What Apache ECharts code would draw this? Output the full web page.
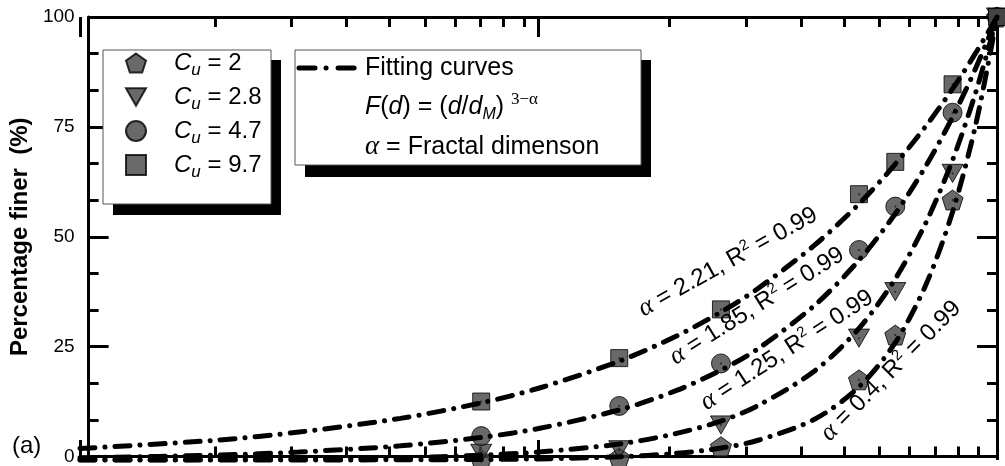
<!DOCTYPE html>
<html><head><meta charset="utf-8">
<script src="https://cdn.jsdelivr.net/npm/echarts@6/dist/echarts.min.js"></script>
<style>html,body{margin:0;padding:0;background:#fff}#c{width:1005px;height:466px}</style>
</head><body><div id="c"></div>
<script>
// ---- data (x = d/dM, y = percentage finer) ----
const sizes = [0.075, 0.15, 0.25, 0.5, 0.6, 0.8, 1];
const cu2   = [0.1, 0.5, 3.0, 18.1, 28.2, 58.7, 100];
const cu28  = [1.5, 2.3, 7.9, 27.5, 38.0, 64.7, 100];
const cu47  = [5.4, 12.2, 21.8, 47.4, 57.2, 78.4, 100];
const cu97  = [13.2, 23.0, 34.0, 60.0, 67.3, 84.8, 100];
const cuLabels = ['2', '2.8', '4.7', '9.7'];

const fitX   = [0.01, 0.02, 0.03, 0.05, 0.075, 0.1, 0.15, 0.2, 0.25, 0.3, 0.4, 0.5, 0.6, 0.7, 0.8, 0.9, 1];
const fit221 = [2.6, 4.5, 6.3, 9.4, 12.9, 16.2, 22.3, 28.0, 33.4, 38.6, 48.5, 57.8, 66.8, 75.4, 83.8, 92.0, 100];
const fit185 = [0.5, 1.1, 1.8, 3.2, 5.1, 7.1, 11.3, 15.7, 20.3, 25.0, 34.9, 45.1, 55.6, 66.4, 77.4, 88.6, 100];
const fit125 = [0.03, 0.1, 0.2, 0.5, 1.1, 1.8, 3.6, 6.0, 8.8, 12.2, 20.1, 29.7, 40.9, 53.6, 67.7, 83.2, 100];
const fit04  = [0, 0, 0.01, 0.04, 0.12, 0.25, 0.72, 1.5, 2.7, 4.4, 9.2, 16.5, 26.5, 39.6, 56.0, 76.0, 100];
const fitAlpha = ['2.21', '1.85', '1.25', '0.4'];

const yTicks = [0, 25, 50, 75, 100];
const xMajorDecades = [-2, -1, 0];           // log10 of d/dM at major ticks
const xMinorSteps = [1.9, 2.8, 3.7, 4.6, 5.5, 6.4, 7.3, 8.2, 9.1];

// ---- build ----
const FONT = 'Liberation Sans';
const pair = (xs, ys) => xs.map((x, i) => [x, ys[i]]);
const minorVals = [];
[-2, -1].forEach(d => xMinorSteps.forEach(k => minorVals.push(d + Math.log10(k))));

const G = { left: 80, right: 8, top: 17, bottom: 6, containLabel: false };
const pentagon = 'path://M0,-10L9.511,-3.09L5.878,8.09L-5.878,8.09L-9.511,-3.09Z';
const triDown = 'path://M-10,-8.66L10,-8.66L0,8.66Z';
const markStyle = { color: '#444444', borderColor: '#000', borderWidth: 1 };
const symbols = [
  { symbol: pentagon, size: 21, data: cu2 },
  { symbol: triDown, size: 21, data: cu28 },
  { symbol: 'circle', size: 19, data: cu47 },
  { symbol: 'rect', size: 17, data: cu97 }
];
const DATA_X = 4, DATA_Y = 3;
const scatterSeries = symbols.map((s, i) => ({
  name: 'Cu = ' + cuLabels[i],
  type: 'scatter', xAxisIndex: DATA_X, yAxisIndex: DATA_Y,
  symbol: s.symbol, symbolSize: s.size, symbolKeepAspect: true,
  itemStyle: markStyle, clip: false, z: 3,
  data: pair(sizes, s.data)
}));
const dotSeries = symbols.map((s, i) => ({
  name: 'dot ' + cuLabels[i],
  type: 'scatter', xAxisIndex: DATA_X, yAxisIndex: DATA_Y,
  symbol: 'circle', symbolSize: 2, itemStyle: { color: '#111' }, clip: false, z: 3, silent: true,
  data: pair(sizes, s.data)
}));
const fits = [fit221, fit185, fit125, fit04];
const lineSeries = fits.map((f, i) => ({
  name: 'fit ' + fitAlpha[i], type: 'line', xAxisIndex: DATA_X, yAxisIndex: DATA_Y,
  smooth: 0.3, showSymbol: false, symbol: 'none', clip: false, z: 4,
  lineStyle: { color: '#000', width: 5, type: [15, 10, 0.1, 10], cap: 'round' },
  data: pair(fitX, f)
}));

const AX = { color: '#000', width: 3 };
const valX = (grid, pos, vals, len, showLine) => ({
  type: 'value', gridIndex: grid, position: pos, min: -2, max: 0,
  axisLine: { show: showLine, onZero: false, lineStyle: AX },
  axisTick: { show: true, inside: true, length: len, customValues: vals, lineStyle: AX },
  axisLabel: { show: false }, splitLine: { show: false }
});
const yAx = (pos, labels) => ({
  type: 'value', gridIndex: 0, position: pos, min: 0, max: 100, interval: 25,
  axisLine: { show: true, onZero: false, lineStyle: AX },
  axisTick: { show: true, inside: true, length: 20, lineStyle: AX },
  minorTick: { show: true, splitNumber: 3, length: 10, lineStyle: AX },
  axisLabel: { show: labels, fontFamily: FONT, fontSize: 19, color: '#000', margin: 14 },
  splitLine: { show: false },
  name: labels ? 'Percentage finer  (%)' : '', nameLocation: 'middle', nameGap: 43,
  nameTextStyle: { fontFamily: FONT, fontSize: 24, fontWeight: 'bold', color: '#000' }
});
const hiddenY = grid => ({ type: 'value', gridIndex: grid, min: 0, max: 100, show: false });

const annot = (txt, x, y, deg) => ({
  type: 'text', x: x, y: y, rotation: deg * Math.PI / 180, z: 20,
  style: {
    text: '{a|α} = ' + txt + ', R{sup|2} = 0.99',
    fontFamily: FONT, fontSize: 24, fill: '#000', align: 'center', verticalAlign: 'middle', lineHeight: 28,
    rich: {
      a: { fontFamily: 'Liberation Serif', fontStyle: 'italic', fontSize: 26, lineHeight: 28 },
      sup: { fontFamily: FONT, fontSize: 15, lineHeight: 14, verticalAlign: 'top' }
    }
  }
});

const option = {
  animation: false,
  backgroundColor: '#fff',
  grid: [Object.assign({}, G), Object.assign({}, G), Object.assign({}, G)],
  xAxis: [
    valX(0, 'bottom', minorVals, 10, true),
    valX(0, 'top', minorVals, 10, true),
    valX(1, 'bottom', xMajorDecades, 20, false),
    valX(1, 'top', xMajorDecades, 20, false),
    { type: 'log', logBase: 10, gridIndex: 2, min: 0.01, max: 1, show: false }
  ],
  yAxis: [yAx('left', true), yAx('right', false), hiddenY(1), hiddenY(2)],
  legend: {
    data: scatterSeries.map(s => s.name),
    orient: 'vertical', left: 125, top: 51, padding: 0,
    itemWidth: 20, itemHeight: 20, itemGap: 6, selectedMode: false,
    formatter: n => '{i|C}{s|u}{t| = ' + n.slice(5) + '}',
    textStyle: {
      fontFamily: FONT, fontSize: 24, color: '#000',
      rich: {
        i: { fontFamily: FONT, fontStyle: 'italic', fontSize: 24, lineHeight: 32, padding: [0, 0, 0, 23] },
        s: { fontFamily: FONT, fontStyle: 'italic', fontSize: 17, lineHeight: 14, verticalAlign: 'bottom' },
        t: { fontFamily: FONT, fontSize: 24, lineHeight: 32 }
      }
    },
    z: 10
  },
  graphic: [
    { type: 'rect', shape: { x: 113, y: 60, width: 168, height: 155 }, style: { fill: '#000' }, z: 8 },
    { type: 'rect', shape: { x: 103, y: 50, width: 168, height: 154 }, style: { fill: '#fff', stroke: '#555', lineWidth: 1 }, z: 9 },
    { type: 'rect', shape: { x: 305, y: 60, width: 346, height: 117 }, style: { fill: '#000' }, z: 8 },
    { type: 'rect', shape: { x: 295, y: 50, width: 346, height: 115 }, style: { fill: '#fff', stroke: '#555', lineWidth: 1 }, z: 9 },
    { type: 'line', shape: { x1: 299, y1: 68, x2: 357, y2: 68 }, z: 12,
      style: { stroke: '#000', lineWidth: 5, lineDash: [16, 11, 0.1, 12], lineCap: 'round' } },
    { type: 'text', x: 365, y: 68, z: 12, style: { text: 'Fitting curves', fontFamily: FONT, fontSize: 25, fill: '#000', verticalAlign: 'middle' } },
    { type: 'text', x: 365, y: 107, z: 12, style: {
        text: '{i|F}(' + '{i|d}' + ') = (' + '{i|d}/{i|d}' + '{sub|M}' + ') ' + '{sup|3−α}',
        fontFamily: FONT, fontSize: 25, fill: '#000', verticalAlign: 'middle', lineHeight: 32,
        rich: {
          i: { fontFamily: FONT, fontStyle: 'italic', fontSize: 25, lineHeight: 32 },
          sub: { fontFamily: FONT, fontStyle: 'italic', fontSize: 16, lineHeight: 14, verticalAlign: 'bottom' },
          sup: { fontFamily: 'Liberation Serif', fontSize: 17, lineHeight: 16, verticalAlign: 'top' }
        } } },
    { type: 'text', x: 365, y: 147, z: 12, style: {
        text: '{a|α} = Fractal dimenson', fontFamily: FONT, fontSize: 25, fill: '#000', verticalAlign: 'middle', lineHeight: 28,
        rich: { a: { fontFamily: 'Liberation Serif', fontStyle: 'italic', fontSize: 27, lineHeight: 28 } } } },
    annot(fitAlpha[0], 728, 262, 29),
    annot(fitAlpha[1], 757, 306, 32),
    annot(fitAlpha[2], 787, 350, 33),
    annot(fitAlpha[3], 891, 371, 45),
    { type: 'text', x: 12, y: 446, z: 12, style: { text: '(a)', fontFamily: FONT, fontSize: 24, fill: '#000', verticalAlign: 'middle' } }
  ],
  series: scatterSeries.concat(dotSeries, lineSeries)
};
const chart = echarts.init(document.getElementById('c'), null, { renderer: 'canvas' });
chart.setOption(option);
</script></body></html>
